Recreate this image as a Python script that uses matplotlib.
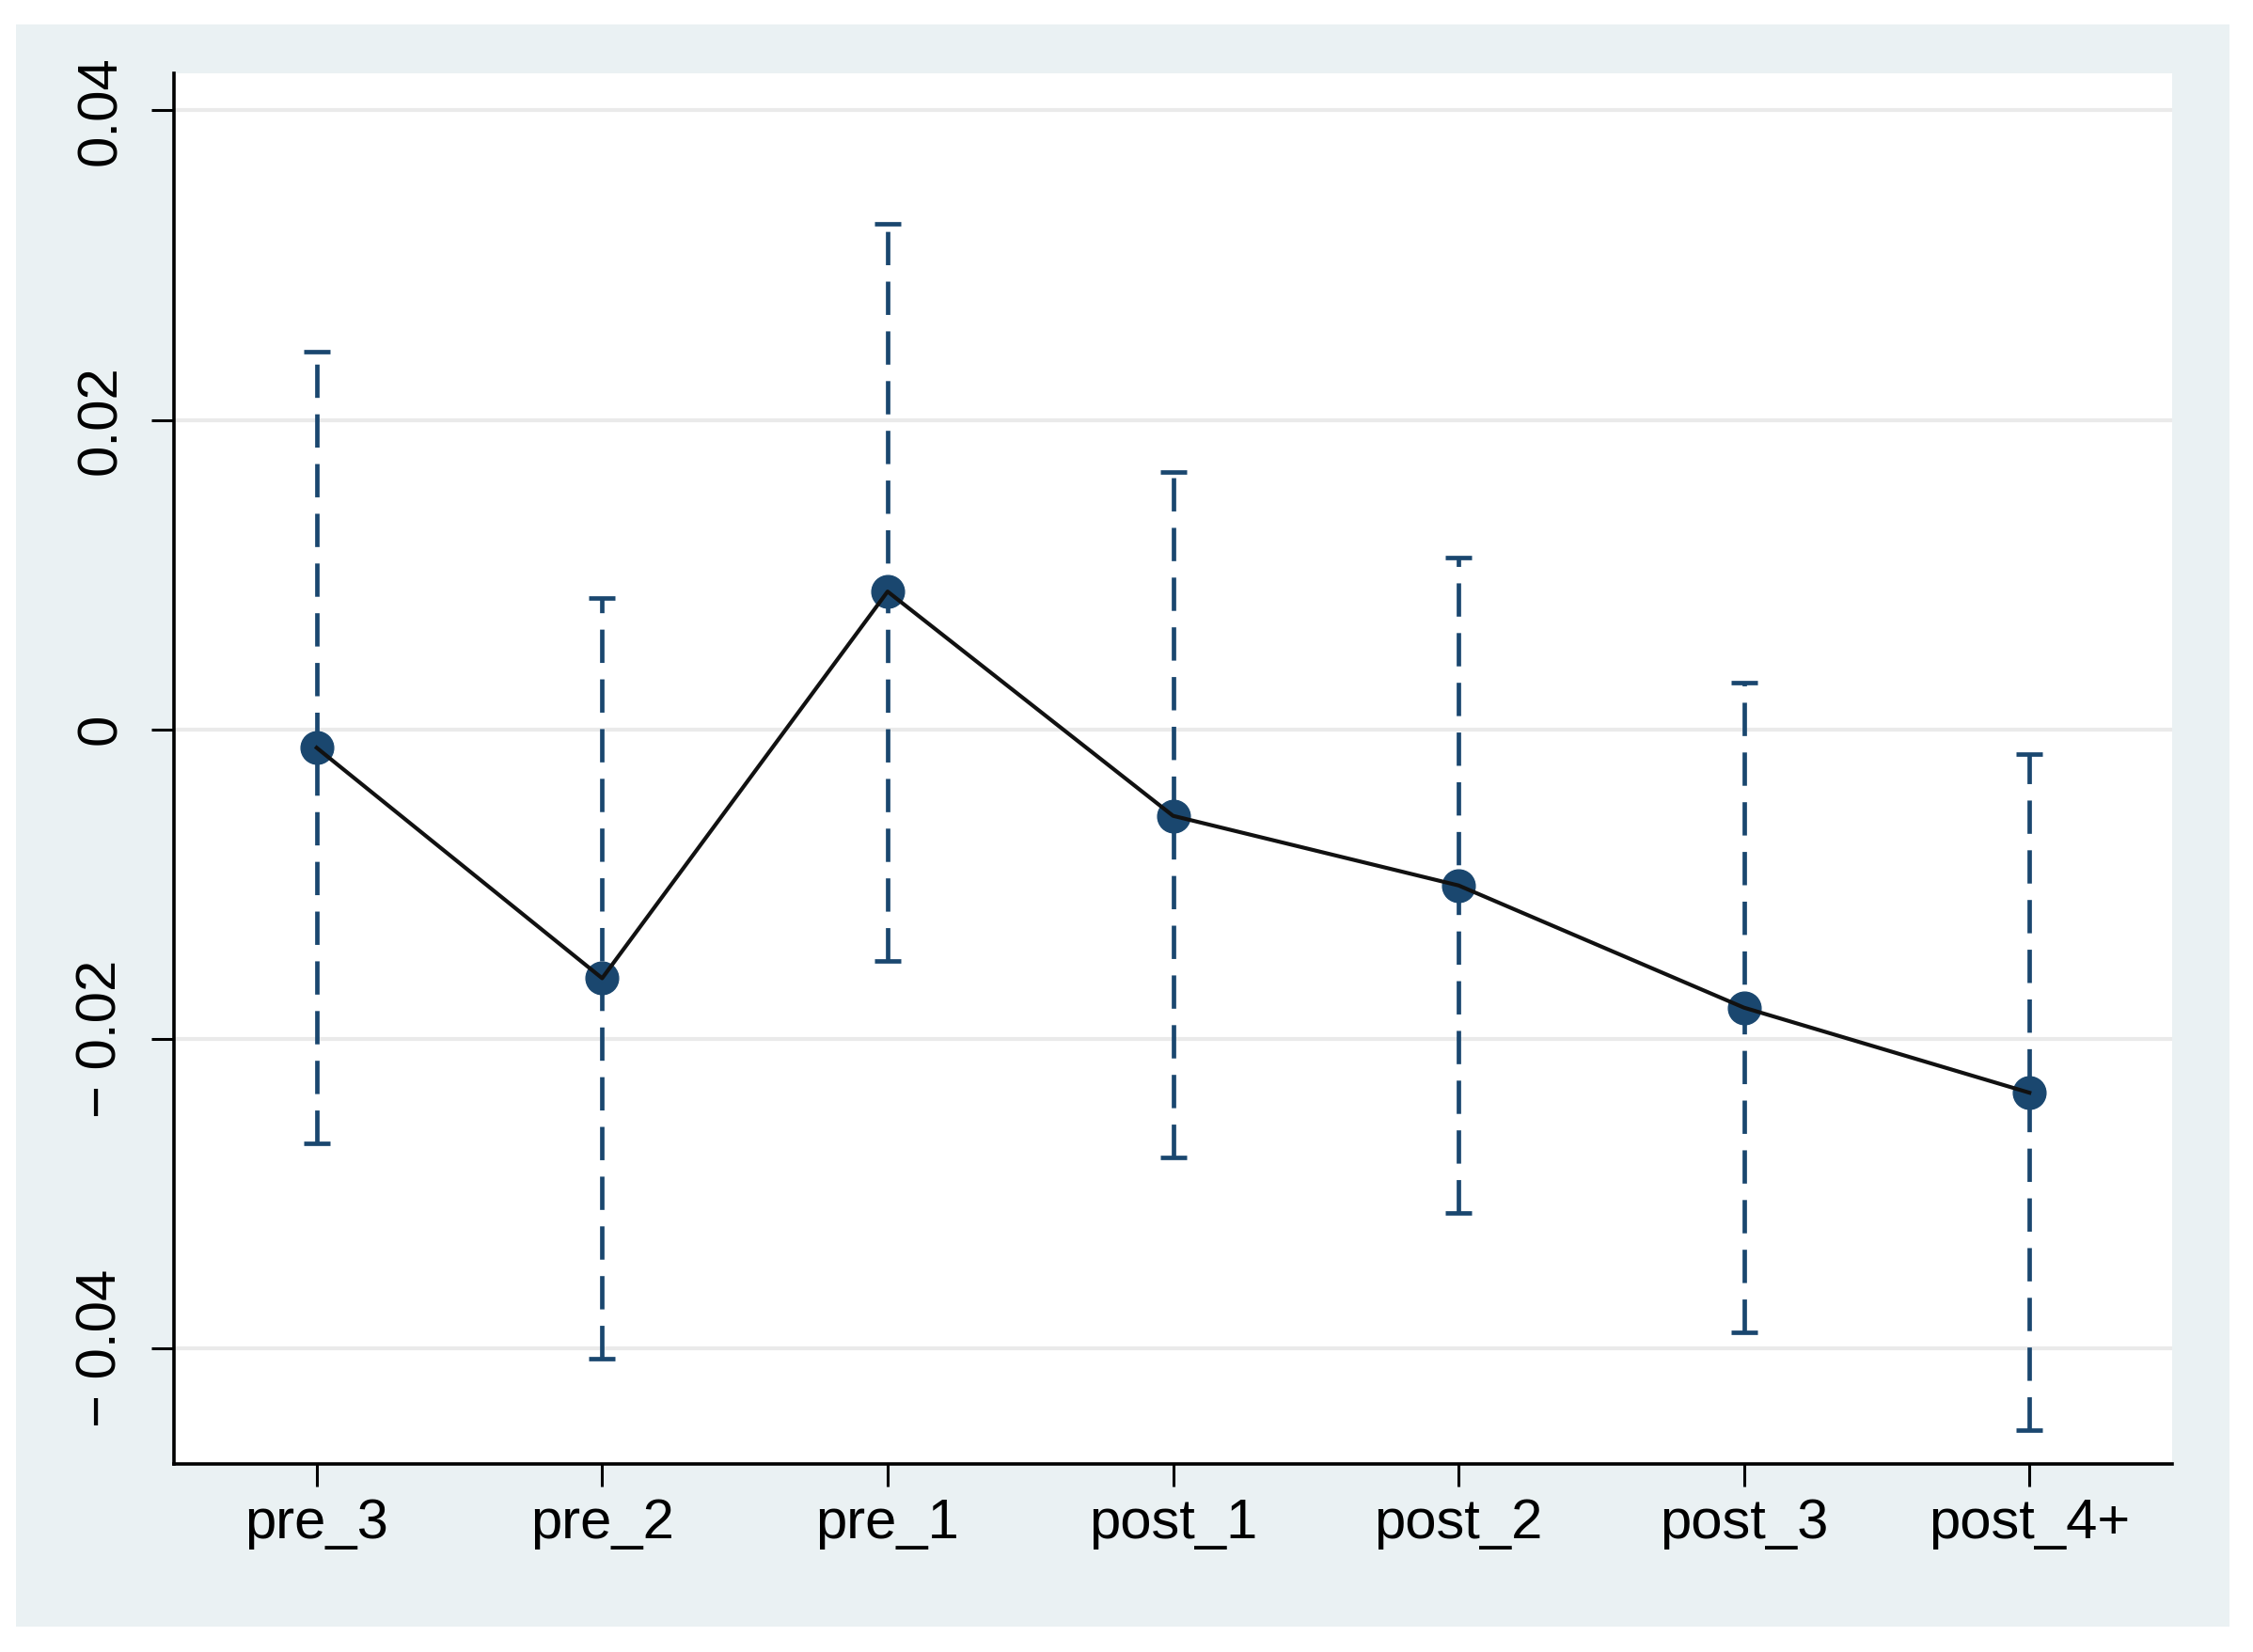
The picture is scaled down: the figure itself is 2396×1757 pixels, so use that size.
import matplotlib
matplotlib.use("Agg")
import matplotlib.pyplot as plt
from matplotlib.patches import Rectangle

plt.rcParams['font.family'] = ['Liberation Sans', 'DejaVu Sans']

categories = ["pre_3", "pre_2", "pre_1", "post_1", "post_2", "post_3", "post_4+"]
coef  = [-0.0012, -0.0161, 0.0089, -0.0056, -0.0101, -0.0180, -0.0235]
upper = [0.0244, 0.0085, 0.0327, 0.0166, 0.0111, 0.0030, -0.0016]
lower = [-0.0268, -0.0407, -0.0150, -0.0277, -0.0313, -0.0390, -0.0453]
yticks = [-0.04, -0.02, 0.0, 0.02, 0.04]
ytick_labels = ["\u2212 0.04", "\u2212 0.02", "0", "0.02", "0.04"]

navy = "#1A476F"
bg = "#EAF1F3"

W, H, DPI = 2396, 1757, 100
fig = plt.figure(figsize=(W / DPI, H / DPI), dpi=DPI, facecolor="white")
fig.patches.append(Rectangle((17 / W, 1 - 1730 / H), (2371 - 17) / W, (1730 - 26) / H,
                             transform=fig.transFigure, facecolor=bg, edgecolor="none", zorder=-10))

ax = fig.add_axes([185 / W, 1 - 1557 / H, (2310 - 185) / W, (1557 - 78) / H])
ax.set_zorder(1)
ax.set_facecolor("white")

x = list(range(len(categories)))
yerr = [[c - l for c, l in zip(coef, lower)], [u - c for c, u in zip(coef, upper)]]
eb = ax.errorbar(x, coef, yerr=yerr, fmt="none", ecolor=navy, elinewidth=3.4,
                 capsize=10, capthick=3.4, zorder=3)
for lc in eb[2]:
    lc.set_linestyle((0, (7.5, 3.7)))

ax.plot(x, coef, linestyle="none", marker="o", markersize=25, color=navy, zorder=4)
ax.plot(x, coef, color="#111111", linewidth=3.0, zorder=5)

ax.set_xlim(-0.5, 6.5)
ax.set_ylim(-0.0475, 0.0424)
ax.set_xticks(x)
ax.set_xticklabels(categories, fontsize=43)
ax.set_yticks(yticks)
ax.set_yticklabels(ytick_labels, fontsize=43, rotation=90, va="center")

ax.grid(axis="y", color="#EAEAEA", linewidth=3)
ax.set_axisbelow(True)
ax.tick_params(axis="both", length=17, width=2.2, color="black")
ax.tick_params(axis="x", pad=9)
ax.tick_params(axis="y", pad=19)

for s in ["top", "right"]:
    ax.spines[s].set_visible(False)
for s in ["left", "bottom"]:
    ax.spines[s].set_linewidth(2.6)
    ax.spines[s].set_color("black")

fig.savefig("out.png", dpi=DPI, facecolor="white")
